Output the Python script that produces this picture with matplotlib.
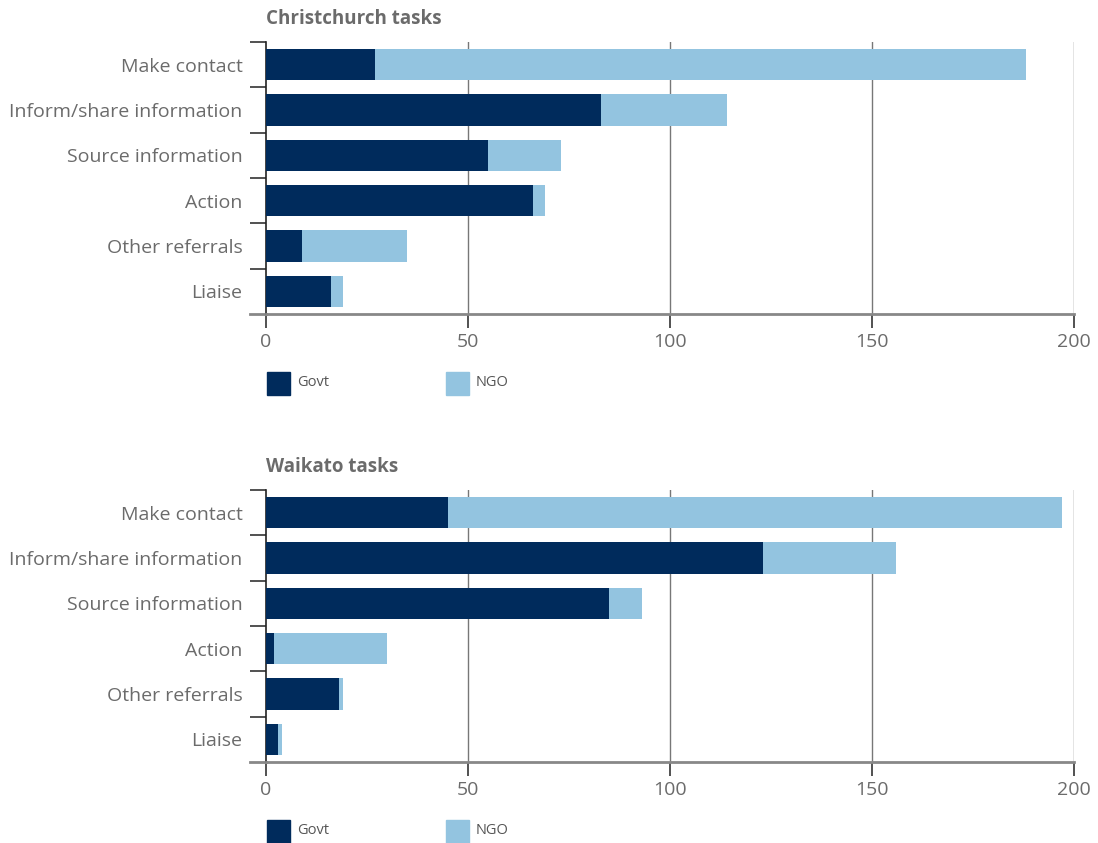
import numpy as np
import matplotlib
matplotlib.use("Agg")
import matplotlib.pyplot as plt
from matplotlib.patches import Rectangle
from matplotlib.lines import Line2D

plt.rcParams['font.family'] = ['Open Sans', 'DejaVu Sans']

categories = ["Make contact", "Inform/share information", "Source information",
              "Action", "Other referrals", "Liaise"]

chch_govt = [27, 83, 55, 66, 9, 16]
chch_ngo = [161, 31, 18, 3, 26, 3]

waik_govt = [45, 123, 85, 2, 18, 3]
waik_ngo = [152, 33, 8, 28, 1, 1]

xticks = [0, 50, 100, 150, 200]
series_names = ["Govt", "NGO"]

GOVT = "#002B5C"
NGO = "#93C4E0"
TXT = "#6b6b6b"

W, H = 1098, 843
fig = plt.figure(figsize=(W / 100, H / 100), dpi=100)


def px_axes(x0, y0, x1, y1):
    return fig.add_axes([x0 / W, 1 - y1 / H, (x1 - x0) / W, (y1 - y0) / H])


def panel(top, bottom, title, govt, ngo, legend_y):
    ax = px_axes(266, top, 1074, bottom)
    y = np.arange(len(categories))
    ax.barh(y, govt, height=0.69, color=GOVT, zorder=3)
    ax.barh(y, ngo, left=govt, height=0.69, color=NGO, zorder=3)
    ax.set_xlim(0, 200)
    ax.set_ylim(len(categories) - 0.5, -0.5)

    for s in ["top", "right"]:
        ax.spines[s].set_visible(False)
    ax.spines["left"].set_color("#222222")
    ax.spines["left"].set_linewidth(1.2)
    ax.spines["bottom"].set_color("#888888")
    ax.spines["bottom"].set_linewidth(2)

    # vertical gridlines
    for xv in xticks[1:]:
        ax.axvline(xv, color="#777777", lw=1, zorder=1)

    ax.set_xticks(xticks)
    ax.set_xticklabels([str(v) for v in xticks])
    ax.tick_params(axis="x", length=10, width=1.2, color="#333333",
                   labelsize=14, labelcolor=TXT, pad=4)

    ax.set_yticks(y)
    ax.set_yticklabels(categories)
    ax.tick_params(axis="y", which="major", length=0, labelsize=14,
                   labelcolor=TXT, pad=17)
    ax.set_yticks(np.arange(-0.5, len(categories) - 0.5, 1), minor=True)
    ax.tick_params(axis="y", which="minor", length=11.5, width=1.2, color="#333333")

    # bottom line extended to the left
    ax.add_line(Line2D([-16 / 808, 0], [0, 0], transform=ax.transAxes,
                       color="#888888", lw=2, clip_on=False))

    fig.text(266 / W, 1 - (top - 23) / H, title, fontsize=13.5, fontweight="bold",
             color="#6b6b6b", va="center", ha="left")

    # legend
    for i, (name, col) in enumerate(zip(series_names, [GOVT, NGO])):
        x0 = 267 + i * 179
        fig.patches.append(Rectangle((x0 / W, 1 - (legend_y + 12) / H), 23 / W, 23 / H,
                                     transform=fig.transFigure, color=col))
        fig.text((x0 + 30) / W, 1 - legend_y / H, name, fontsize=10.5,
                 color="#555555", va="center", ha="left")
    return ax


panel(42, 314, "Christchurch tasks", chch_govt, chch_ngo, 383)
panel(490, 762, "Waikato tasks", waik_govt, waik_ngo, 831)

fig.savefig("out.png", dpi=100)
